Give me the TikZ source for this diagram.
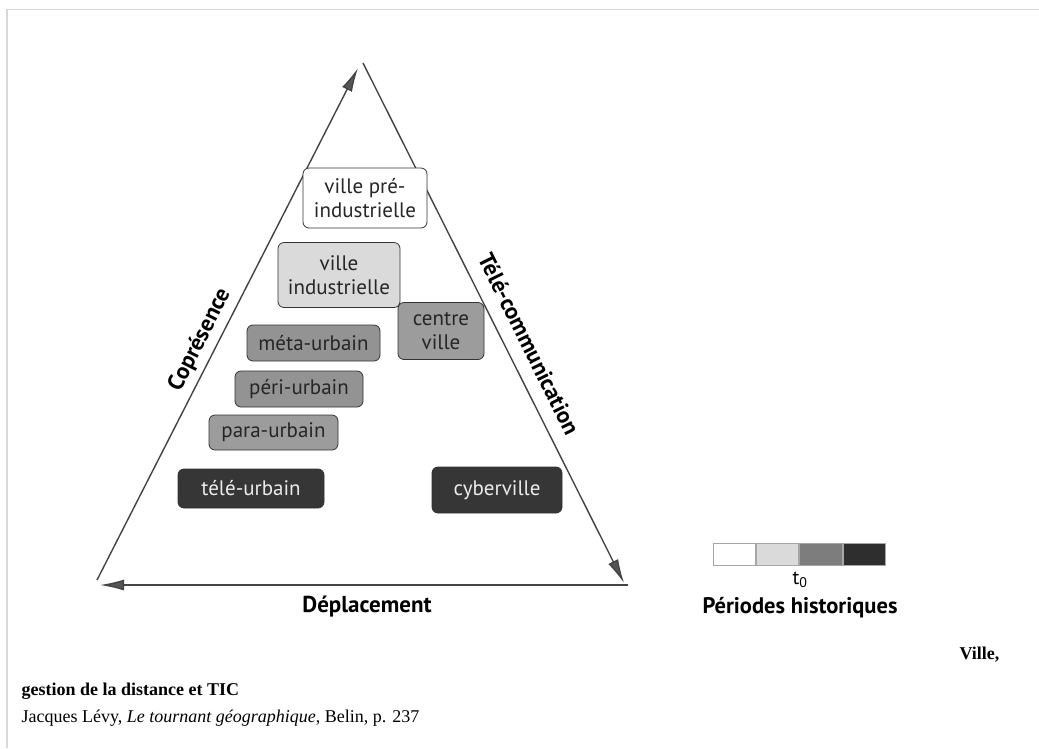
\documentclass[tikz,border=0pt]{standalone}
\usepackage{fontspec}
\setmainfont{Liberation Serif}
\newfontfamily\diag{PT Sans}
\usetikzlibrary{arrows.meta}
\definecolor{linec}{HTML}{444444}
\definecolor{arrc}{HTML}{555555}
\definecolor{cwhite}{HTML}{FFFFFF}
\definecolor{clight}{HTML}{DADADA}
\definecolor{cmid}{HTML}{939393}
\definecolor{cmidb}{HTML}{9C9C9C}
\definecolor{cdark}{HTML}{363636}
\definecolor{bordc}{HTML}{333333}
\definecolor{framec}{HTML}{D8D8D8}
\begin{document}
\begin{tikzpicture}[x=1pt,y=-1pt,
  axis/.style={draw=linec,line width=1.4pt,-{Latex[length=24pt,width=11pt,fill=arrc]}},
  citybox/.style={draw=bordc,line width=0.8pt,rounded corners=6pt,inner sep=0pt,
     font=\diag\fontsize{21}{24}\selectfont,text=black!85,align=center},
  axislabel/.style={font=\diag\bfseries\fontsize{23}{26}\selectfont,text=black},
  legcell/.style={draw=gray!70,line width=0.8pt,minimum width=42.5pt,minimum height=22pt,inner sep=0pt}]
\useasboundingbox (0,0) rectangle (1039,748);
\fill[white] (0,0) rectangle (1039,748);
\draw[framec,line width=1.6pt] (7,748) -- (7,9.5) -- (1039,9.5);
% triangle
\coordinate (apex) at (363,63);
\coordinate (ltip) at (358,68);
\coordinate (bl) at (97,580);
\coordinate (rtip) at (624,583);
\coordinate (br) at (628,585);
\coordinate (btip) at (100,585);
\draw[axis] (bl) -- (ltip);
\draw[axis] (apex) -- (rtip);
\draw[axis] (br) -- (btip);
% boxes
\node[citybox,fill=cwhite,minimum width=124pt,minimum height=60pt] (pre) at (365,198) {ville pré-\\industrielle};
\node[citybox,fill=clight,minimum width=122pt,minimum height=65pt] (ind) at (339,275) {ville\\industrielle};
\node[citybox,fill=cmidb,minimum width=86pt,minimum height=57pt] (cen) at (441,331) {centre\\ville};
\node[citybox,fill=cmid,minimum width=133pt,minimum height=36pt] (meta) at (313.5,343) {méta-urbain};
\node[citybox,fill=cmid,minimum width=128pt,minimum height=36pt] (peri) at (299,389) {péri-urbain};
\node[citybox,fill=cmidb,minimum width=129pt,minimum height=35pt] (para) at (273.5,432.5) {para-urbain};
\node[citybox,fill=cdark,text=white!92!black,minimum width=146pt,minimum height=39pt] (tele) at (251,488.5) {télé-urbain};
\node[citybox,fill=cdark,text=white!92!black,minimum width=130pt,minimum height=46pt] (cyber) at (497,490) {cyberville};
% axis labels
\node[axislabel,rotate=63.3] (copr) at (200,340) {Coprésence};
\node[axislabel,rotate=-63.6] (tcom) at (529,344) {Télé-communication};
\node[axislabel] (depl) at (367,607) {Déplacement};
% legend
\node[legcell,fill=cwhite] (l1) at (734.25,554) {};
\node[legcell,fill=clight,anchor=west] (l2) at (l1.east) {};
\node[legcell,fill=cmid!85!black,anchor=west] (l3) at (l2.east) {};
\node[legcell,fill=cdark!85!black,anchor=west] (l4) at (l3.east) {};
\node[font=\diag\fontsize{20}{24}\selectfont] (t0) at (800,580) {t\textsubscript{0}};
\node[font=\diag\bfseries\fontsize{22.5}{26}\selectfont] (per) at (800,608) {Périodes historiques};
% caption
\node[font=\bfseries\fontsize{18}{22}\selectfont,anchor=east] (cap1) at (1003,655) {Ville,};
\node[font=\bfseries\fontsize{18}{22}\selectfont,anchor=west] (cap2) at (18,691) {gestion de la distance et TIC};
\node[font=\fontsize{18}{22}\selectfont,anchor=west] (cap3) at (18,718) {Jacques Lévy, \textit{Le tournant géographique}, Belin, p. 237};
\end{tikzpicture}
\end{document}
